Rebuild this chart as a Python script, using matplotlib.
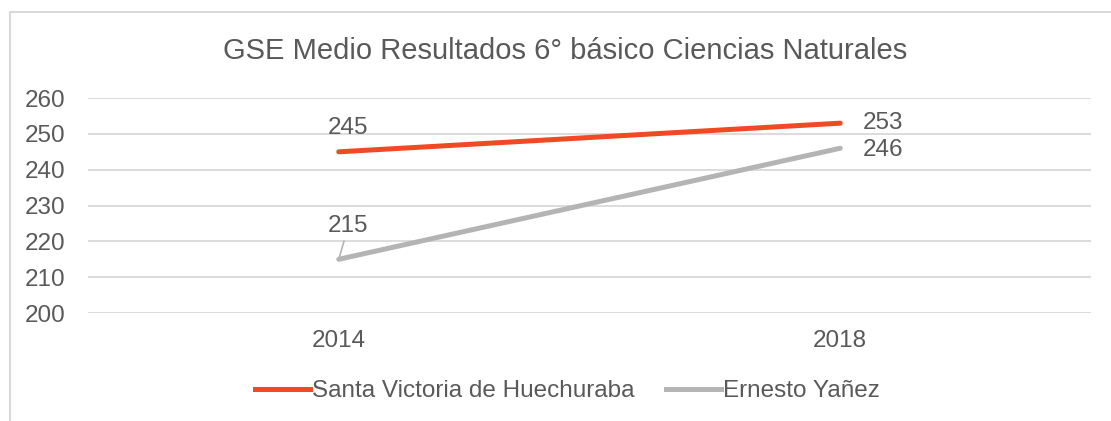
import matplotlib
matplotlib.use("Agg")
import matplotlib.pyplot as plt
from matplotlib.patches import Rectangle
from matplotlib.lines import Line2D

# data
YEARS = ["2014", "2018"]
SANTA = [245, 253]
ERNESTO = [215, 246]
SERIES_NAMES = ["Santa Victoria de Huechuraba", "Ernesto Yañez"]
Y_TICKS = [200, 210, 220, 230, 240, 250, 260]
TITLE = "GSE Medio Resultados 6° básico Ciencias Naturales"

TEXT = "#595959"
GRID = "#d9d9d9"
RED = "#f04923"
GRAY = "#b4b4b4"

plt.rcParams.update({"font.family": ["Liberation Sans", "DejaVu Sans"],
                     "text.color": TEXT})

fig = plt.figure(figsize=(11.11, 4.21), dpi=100)
ax = fig.add_axes([0.0792, 0.2565, 0.9028, 0.5105])

x = list(range(len(YEARS)))
ax.plot(x, SANTA, color=RED, lw=3.6, solid_capstyle="round", zorder=3)
ax.plot(x, ERNESTO, color=GRAY, lw=3.6, solid_capstyle="round", zorder=3)

fs = 17.5
ax.set_xlim(-0.5, len(YEARS) - 0.5)
ax.set_ylim(Y_TICKS[0], Y_TICKS[-1])
ax.set_yticks(Y_TICKS)
ax.set_xticks(x, YEARS)
ax.yaxis.grid(True, color=GRID, lw=1.3)
ax.set_axisbelow(True)
for s in ax.spines.values():
    s.set_visible(False)
ax.tick_params(axis="both", length=0, labelsize=fs, labelcolor=TEXT)
ax.tick_params(axis="y", pad=16)
ax.tick_params(axis="x", pad=12)

# point labels
ax.annotate(str(SANTA[0]), (x[0], SANTA[0]), xytext=(7, 17), textcoords="offset points",
            ha="center", va="center", fontsize=fs, color=TEXT)
ax.annotate(str(SANTA[1]), (x[1], SANTA[1]), xytext=(31, 0), textcoords="offset points",
            ha="center", va="center", fontsize=fs, color=TEXT)
ax.annotate(str(ERNESTO[1]), (x[1], ERNESTO[1]), xytext=(31, -1), textcoords="offset points",
            ha="center", va="center", fontsize=fs, color=TEXT)
ax.annotate(str(ERNESTO[0]), (x[0], ERNESTO[0]), xytext=(7, 24), textcoords="offset points",
            ha="center", va="center", fontsize=fs, color=TEXT,
            arrowprops=dict(arrowstyle="-", color=GRAY, lw=1.2, shrinkA=1, shrinkB=2))

fig.text(0.5086, 0.879, TITLE, ha="center", va="center", fontsize=21, color=TEXT)

handles = [Line2D([], [], color=RED, lw=3.6), Line2D([], [], color=GRAY, lw=3.6)]
fig.legend(handles, SERIES_NAMES, loc="center", bbox_to_anchor=(0.511, 0.071), ncol=2,
           frameon=False, fontsize=fs, handlelength=2.25, handletextpad=0.1,
           columnspacing=1.3, labelcolor=TEXT)

fig.add_artist(Rectangle((10 / 1111, -0.05), 1.1, 0.05 + 1 - 12 / 421,
                         transform=fig.transFigure, fill=False, edgecolor=GRID, lw=1.5))

fig.savefig("out.png", dpi=100)
